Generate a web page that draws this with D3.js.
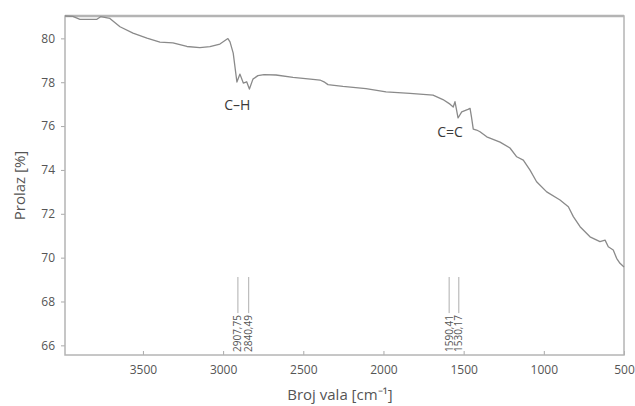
<!DOCTYPE html>
<html><head><meta charset="utf-8">
<script src="https://cdn.jsdelivr.net/npm/d3@7/dist/d3.min.js"></script>
<style>body{margin:0;background:#fff}svg{display:block}text{font-family:"Open Sans",sans-serif}</style>
</head><body><svg id="c" width="635" height="406"></svg>
<script>
const wavenumber = [3986,3937,3893,3787,3764,3706,3643,3562,3475,3394,3313,3226,3145,3082,3020,2970,2957,2937,2914,2895,2874,2853,2836,2814,2783,2745,2670,2564,2440,2396,2371,2346,2321,2253,2109,1984,1835,1691,1629,1585,1565,1554,1535,1512,1473,1460,1451,1440,1419,1398,1356,1273,1211,1169,1128,1086,1045,982,899,847,816,774,712,650,618,598,567,546,525,500];
const transmittance = [81.02,81.0,80.87,80.87,80.99,80.91,80.53,80.24,80.01,79.83,79.79,79.63,79.58,79.62,79.74,79.99,79.84,79.33,78.01,78.37,77.96,78.02,77.69,78.14,78.30,78.35,78.33,78.22,78.13,78.10,78.02,77.89,77.87,77.81,77.71,77.56,77.49,77.41,77.21,77.00,76.87,77.11,76.37,76.65,76.76,76.81,76.41,75.86,75.82,75.74,75.51,75.27,75.00,74.60,74.45,73.99,73.46,73.00,72.63,72.32,71.87,71.41,70.95,70.73,70.80,70.50,70.35,69.97,69.74,69.57];
const xTicks = [3500,3000,2500,2000,1500,1000,500];
const yTicks = [66,68,70,72,74,76,78,80];
const peakPositions = [2907.75,2840.49,1590.41,1530.17];
const peakLabels = ["2907,75","2840,49","1590,41","1530,17"];
const bandLabels = ["C–H","C=C"];
const bandPositions = [2911,1585];
const bandValues = [76.73,75.5];

const L=65,T=16,R=624,B=355;
const svg=d3.select("#c");
const x=d3.scaleLinear().domain([3986,500]).range([L,R]);
const y=d3.scaleLinear().domain([65.56,81.02]).range([B,T]);

// y axis
const ya=svg.append("g").attr("transform",`translate(${L},0)`).call(d3.axisLeft(y).tickValues(yTicks).tickSize(4).tickPadding(6).tickFormat(d3.format("d")));
ya.select(".domain").remove();
ya.selectAll("line").attr("stroke","#aaa");
ya.selectAll("text").attr("fill","#555").style("font-size","12px");
// x axis
const xa=svg.append("g").attr("transform",`translate(0,${B})`).call(d3.axisBottom(x).tickValues(xTicks).tickSize(-4).tickPadding(10).tickFormat(d3.format("d")));
xa.select(".domain").remove();
xa.selectAll("line").attr("stroke","#aaa");
xa.selectAll("text").attr("fill","#555").style("font-size","12px");

// frame
svg.append("rect").attr("x",L).attr("y",T).attr("width",R-L).attr("height",B-T).attr("fill","none").attr("stroke","#b4b4b4").attr("stroke-width",1.5);
svg.append("line").attr("x1",L).attr("x2",R).attr("y1",T).attr("y2",T).attr("stroke","#b4b4b4").attr("stroke-width",2.5);

// curve
const data=wavenumber.map((w,i)=>[w,transmittance[i]]);
svg.append("path").datum(data).attr("fill","none").attr("stroke","#8a8a8a").attr("stroke-width",1.3).attr("stroke-linejoin","round")
  .attr("d",d3.line().x(d=>x(d[0])).y(d=>y(d[1])));

// peak markers
peakPositions.forEach((p,i)=>{
  const px=x(p);
  const t=svg.append("text").attr("transform",`translate(${px+3.5},352) rotate(-90)`).attr("fill","#555").style("font-size","10px").text(peakLabels[i]);
  const len=t.node().getComputedTextLength();
  svg.append("line").attr("x1",px).attr("x2",px).attr("y1",277).attr("y2",352-len-2).attr("stroke","#999").attr("stroke-width",0.8);
});

// band labels
bandLabels.forEach((t,i)=>{
  svg.append("text").attr("x",x(bandPositions[i])).attr("y",y(bandValues[i])).attr("text-anchor","middle").attr("fill","#3a3a3a").style("font-size","14px").text(t);
});

// axis titles
svg.append("text").attr("transform",`translate(25,${(T+B)/2}) rotate(-90)`).attr("text-anchor","middle").attr("fill","#555").style("font-size","15px").text("Prolaz [%]");
svg.append("text").attr("x",340).attr("y",400).attr("text-anchor","middle").attr("fill","#555").style("font-size","15px").text("Broj vala [cm⁻¹]");
</script></body></html>
